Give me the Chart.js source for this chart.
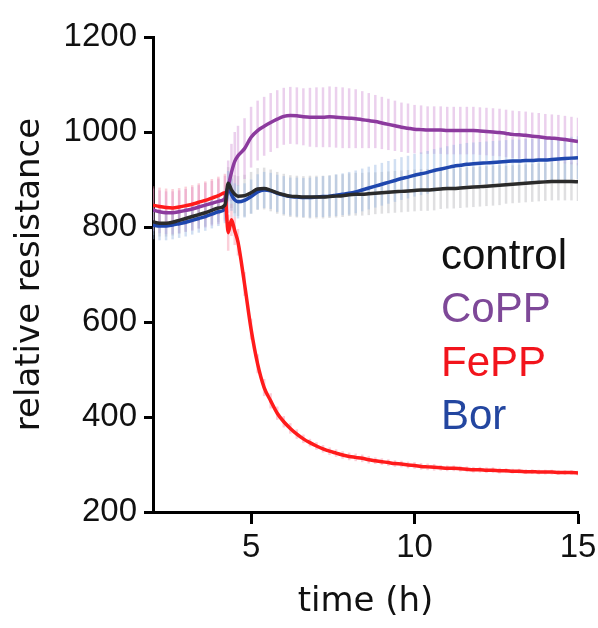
<!DOCTYPE html>
<html>
<head>
<meta charset="utf-8">
<script src="https://cdn.jsdelivr.net/npm/chart.js@4/dist/chart.umd.min.js"></script>
<style>
  html, body { margin: 0; padding: 0; background: #fff; }
  canvas { display: block; }
</style>
</head>
<body>
<canvas id="chart" width="598" height="628"></canvas>
<script>
// time points (h)
const hours = [2.0, 2.2, 2.4, 2.6, 2.8, 3.0, 3.2, 3.4, 3.6, 3.8, 4.0, 4.2, 4.3, 4.4, 4.5, 4.6,
    4.8, 5.0, 5.2, 5.4, 5.6, 5.8, 6.0, 6.2, 6.4, 6.6, 6.8, 7.0, 7.2, 7.4, 7.6, 7.8, 8.0, 8.2, 8.4, 8.6,
    8.8, 9.0, 9.2, 9.4, 9.6, 9.8, 10.0, 10.2, 10.4, 10.6, 10.8, 11.0, 11.2, 11.4, 11.6, 11.8, 12.0, 12.2, 12.4, 12.6,
    12.8, 13.0, 13.2, 13.4, 13.6, 13.8, 14.0, 14.2, 14.4, 14.6, 14.8, 15.0];

const seriesNames = ['control', 'CoPP', 'FePP', 'Bor'];

const controlMean = [811, 808, 808, 810, 814, 818, 822, 826, 830, 835, 840, 846, 892, 878, 869, 865,
    866, 872, 880, 881, 877, 872, 868, 865, 864, 863, 863, 863, 863, 864, 865, 866, 868, 869, 869, 870,
    871, 872, 873, 874, 875, 876, 877, 878, 878, 879, 880, 881, 881, 882, 883, 884, 885, 886, 887, 888,
    889, 890, 891, 892, 893, 894, 895, 896, 896, 896, 896, 895];
const coppMean = [836, 832, 830, 830, 832, 835, 838, 842, 846, 850, 854, 860, 885, 915, 938, 950,
    965, 989, 1003, 1012, 1020, 1027, 1033, 1035, 1034, 1032, 1031, 1031, 1031, 1032, 1031, 1030, 1029, 1028, 1026, 1024,
    1022, 1019, 1016, 1013, 1010, 1008, 1006, 1005, 1004, 1004, 1004, 1003, 1003, 1003, 1003, 1003, 1002, 1001, 1000, 999,
    997, 995, 994, 993, 991, 990, 988, 987, 986, 984, 982, 980];
const feppMean = [846, 843, 841, 840, 842, 845, 848, 852, 856, 861, 866, 872, 788, 815, 792, 768,
    680, 585, 512, 462, 434, 408, 390, 376, 364, 354, 346, 339, 333, 328, 324, 320, 317, 315, 313, 310,
    308, 306, 304, 302, 301, 299, 298, 296, 295, 294, 293, 292, 292, 291, 290, 289, 289, 288, 288, 287,
    287, 286, 286, 285, 285, 284, 284, 284, 283, 283, 283, 282];
const borMean = [804, 802, 802, 804, 807, 810, 814, 818, 822, 827, 832, 838, 886, 868, 857, 853,
    856, 864, 874, 878, 876, 871, 867, 864, 863, 862, 862, 863, 864, 865, 867, 869, 871, 874, 878, 882,
    886, 890, 894, 898, 902, 905, 909, 912, 915, 919, 922, 925, 928, 930, 932, 933, 934, 935, 936, 937,
    938, 939, 939, 940, 940, 941, 941, 942, 943, 944, 945, 946];

// spread (error bars)
const controlSd = [28, 28, 28, 28, 28, 28, 28, 28, 29, 29, 30, 30, 34, 38, 40, 42,
    44, 44, 44, 44, 44, 44, 44, 44, 44, 44, 45, 45, 45, 45, 45, 45, 45, 45, 45, 45,
    44, 44, 44, 44, 44, 44, 44, 44, 44, 44, 42, 42, 42, 42, 42, 42, 42, 42, 42, 42,
    40, 40, 40, 40, 40, 40, 40, 40, 40, 40, 40, 40];
const coppSd = [45, 45, 45, 45, 45, 45, 46, 46, 47, 47, 48, 48, 55, 60, 62, 63,
    64, 64, 63, 62, 62, 61, 60, 60, 60, 60, 62, 63, 63, 64, 64, 64, 63, 62, 60, 58,
    56, 55, 54, 53, 52, 52, 51, 51, 50, 50, 50, 50, 50, 50, 50, 50, 50, 50, 50, 50,
    50, 50, 50, 50, 50, 50, 50, 50, 50, 50, 50, 50];
const feppSd = [40, 40, 40, 40, 40, 40, 40, 40, 40, 40, 40, 40, 38, 34, 30, 28,
    25, 22, 20, 18, 16, 14, 12, 11, 10, 9, 8, 8, 8, 8, 8, 8, 8, 8, 8, 8,
    7, 7, 7, 7, 7, 7, 7, 7, 7, 7, 6, 6, 6, 6, 6, 6, 6, 6, 6, 6,
    5, 5, 5, 5, 5, 5, 5, 5, 5, 5, 5, 5];
const borSd = [30, 30, 30, 30, 30, 30, 30, 30, 30, 30, 30, 30, 32, 34, 35, 35,
    36, 36, 37, 38, 38, 39, 40, 40, 41, 41, 42, 42, 43, 43, 44, 44, 45, 45, 45, 45,
    45, 45, 45, 45, 45, 45, 45, 45, 45, 45, 45, 45, 45, 45, 45, 45, 45, 45, 45, 45,
    45, 45, 45, 45, 45, 45, 45, 45, 45, 45, 45, 45];

const xTicks = [5, 10, 15];
const yTicks = [200, 400, 600, 800, 1000, 1200];

const lineColors = ['#2b2b2b', '#8c3a9e', '#ff1b1b', '#1f47ae'];
const barColors = ['rgba(160,160,168,0.34)', 'rgba(210,150,215,0.45)', 'rgba(245,140,165,0.42)', 'rgba(145,178,225,0.42)'];
const legendColors = ['#111111', '#7e4898', '#f2141c', '#2346a0'];

const means = [controlMean, coppMean, feppMean, borMean];
const spreads = [controlSd, coppSd, feppSd, borSd];

// vertical error bars behind the lines
const errorBars = {
    id: 'errorBars',
    beforeDatasetsDraw(chart) {
        const ctx = chart.ctx;
        const yScale = chart.scales.y;
        const area = chart.chartArea;
        ctx.save();
        ctx.beginPath();
        ctx.rect(area.left, area.top, area.right - area.left, area.bottom - area.top);
        ctx.clip();
        ctx.lineWidth = 2.5;
        chart.data.datasets.forEach((ds, i) => {
            const meta = chart.getDatasetMeta(i);
            ctx.strokeStyle = ds.barColor;
            meta.data.forEach((pt, j) => {
                const v = ds.data[j].y;
                const e = ds.spread[j];
                ctx.beginPath();
                ctx.moveTo(pt.x, yScale.getPixelForValue(v + e));
                ctx.lineTo(pt.x, yScale.getPixelForValue(v - e));
                ctx.stroke();
            });
        });
        ctx.restore();
    }
};

// coloured text legend inside the plot
const textLegend = {
    id: 'textLegend',
    afterDraw(chart) {
        const ctx = chart.ctx;
        const area = chart.chartArea;
        ctx.save();
        ctx.font = '42px "Liberation Sans", Arial, sans-serif';
        ctx.textAlign = 'left';
        ctx.textBaseline = 'alphabetic';
        seriesNames.forEach((name, i) => {
            ctx.fillStyle = legendColors[i];
            ctx.fillText(name, area.left + 288, area.top + 232 + i * 53.3);
        });
        ctx.restore();
    }
};

const datasets = seriesNames.map((name, i) => ({
    label: name,
    data: hours.map((h, j) => ({ x: h, y: means[i][j] })),
    spread: spreads[i],
    barColor: barColors[i],
    borderColor: lineColors[i],
    borderWidth: 3.5,
    pointRadius: 0,
    cubicInterpolationMode: 'monotone',
    fill: false
}));

const tickFont = { family: '"Liberation Sans", Arial, sans-serif', size: 33 };
const titleFont = { family: '"DejaVu Sans", Verdana, sans-serif', size: 34 };

new Chart(document.getElementById('chart'), {
    type: 'line',
    data: { datasets: datasets },
    options: {
        responsive: false,
        animation: false,
        devicePixelRatio: 1,
        layout: { padding: { left: 3, right: 20, top: 37, bottom: 0 } },
        plugins: {
            legend: { display: false },
            tooltip: { enabled: false }
        },
        scales: {
            x: {
                type: 'linear',
                min: 2,
                max: 15,
                afterBuildTicks: s => { s.ticks = xTicks.map(v => ({ value: v })); },
                afterFit: s => { s.height = 116; s.paddingRight = 0; s.paddingLeft = 0; },
                grid: { drawOnChartArea: false, drawTicks: true, tickLength: 12, tickWidth: 3, tickColor: '#000' },
                border: { display: true, color: '#000', width: 3 },
                ticks: { font: tickFont, color: '#111', padding: 4, maxRotation: 0, callback: v => String(v) },
                title: { display: true, text: 'time (h)', font: titleFont, color: '#111', padding: { top: 0, bottom: 5 } }
            },
            y: {
                min: 200,
                max: 1200,
                afterBuildTicks: s => { s.ticks = yTicks.map(v => ({ value: v })); },
                afterFit: s => { s.width = 150; },
                grid: { drawOnChartArea: false, drawTicks: true, tickLength: 9, tickWidth: 3, tickColor: '#000' },
                border: { display: true, color: '#000', width: 3 },
                ticks: { font: tickFont, color: '#111', padding: 7, callback: v => String(v) },
                title: { display: true, text: 'relative resistance', font: titleFont, color: '#111', padding: { top: 7, bottom: 0 } }
            }
        }
    },
    plugins: [errorBars, textLegend]
});
</script>
</body>
</html>
